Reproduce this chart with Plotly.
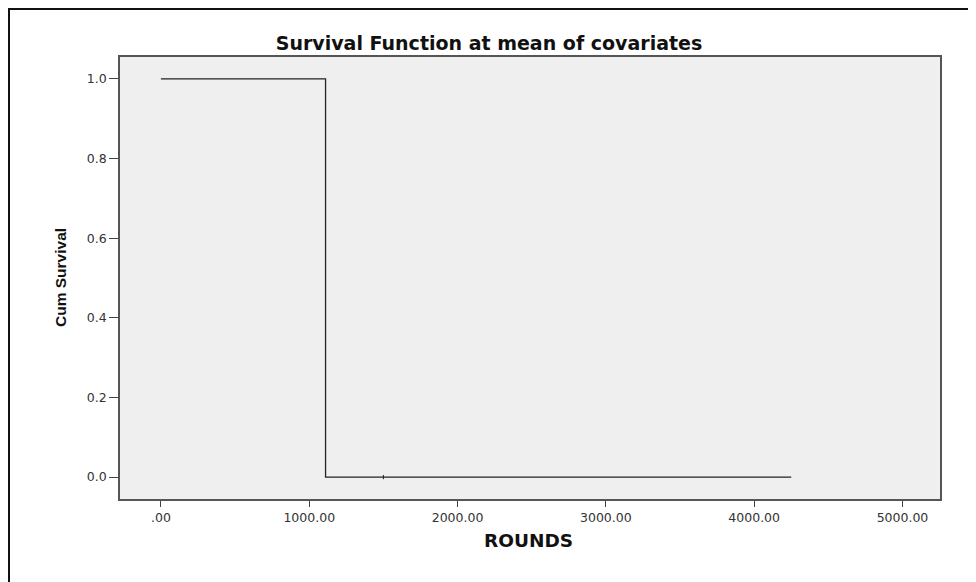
import plotly.graph_objects as go

# Data
rounds = [0, 1110, 1500, 4250]
cum_survival = [1.0, 0.0, 0.0, 0.0]
censored_rounds = [1500]
censored_surv = [0.0]

x_tickvals = [0, 1000, 2000, 3000, 4000, 5000]
x_ticktext = [".00", "1000.00", "2000.00", "3000.00", "4000.00", "5000.00"]
y_tickvals = [0.0, 0.2, 0.4, 0.6, 0.8, 1.0]
y_ticktext = ["0.0", "0.2", "0.4", "0.6", "0.8", "1.0"]

# page has an 8px body margin, so the figure is 8px smaller than the window
W, H = 968, 574
L, R, T, B = 112, 36, 49, 83
pw, ph = W - L - R, H - T - B

fig = go.Figure()
fig.add_trace(go.Scatter(
    x=rounds, y=cum_survival, mode="lines", line_shape="hv",
    line=dict(color="#222222", width=1.3), showlegend=False, hoverinfo="x+y"))
fig.add_trace(go.Scatter(
    x=censored_rounds, y=censored_surv, mode="markers",
    marker=dict(symbol="line-ns", size=3, line=dict(color="#222222", width=1)),
    showlegend=False))

axis_font = dict(family="DejaVu Sans, Verdana, sans-serif", size=12.5, color="#333333")
fig.update_xaxes(
    range=[-276, 5253], tickvals=x_tickvals, ticktext=x_ticktext,
    ticks="outside", ticklen=6, tickcolor="#444444", tickwidth=1,
    showgrid=False, zeroline=False, showline=True, linecolor="#555555",
    linewidth=1.6, mirror=True, tickfont=axis_font)
fig.update_yaxes(
    range=[-0.055, 1.055], tickvals=y_tickvals, ticktext=y_ticktext,
    ticks="outside", ticklen=9, tickcolor="#444444", tickwidth=1,
    showgrid=False, zeroline=False, showline=True, linecolor="#555555",
    linewidth=1.6, mirror=True, tickfont=axis_font)

fig.update_layout(
    width=W, height=H, margin=dict(l=L, r=R, t=T, b=B),
    paper_bgcolor="white", plot_bgcolor="#efefef",
    title=dict(text="<b>Survival Function at mean of covariates</b>",
               font=dict(family="DejaVu Sans, Verdana, sans-serif", size=19, color="#111111"),
               x=481 / W, xref="container", xanchor="center",
               y=1 - 35 / H, yref="container", yanchor="middle"),
    annotations=[
        dict(text="<b>ROUNDS</b>", xref="paper", yref="paper",
             x=(520 - L) / pw, y=(H - B - 532) / ph, xanchor="center", yanchor="middle",
             showarrow=False,
             font=dict(family="DejaVu Sans, Verdana, sans-serif", size=18.5, color="#111111")),
        dict(text="<b>Cum Survival</b>", xref="paper", yref="paper",
             x=(52 - L) / pw, y=0.5, xanchor="center", yanchor="middle",
             textangle=-90, showarrow=False,
             font=dict(family="Liberation Sans, Arial, sans-serif", size=15.5, color="#111111")),
    ],
    shapes=[dict(type="rect", xref="paper", yref="paper",
                 x0=(1 - L) / pw, x1=1.2, y0=-0.4, y1=(H - B - 1) / ph,
                 line=dict(color="#111111", width=2), layer="below")],
)

fig.write_html("out.html")
